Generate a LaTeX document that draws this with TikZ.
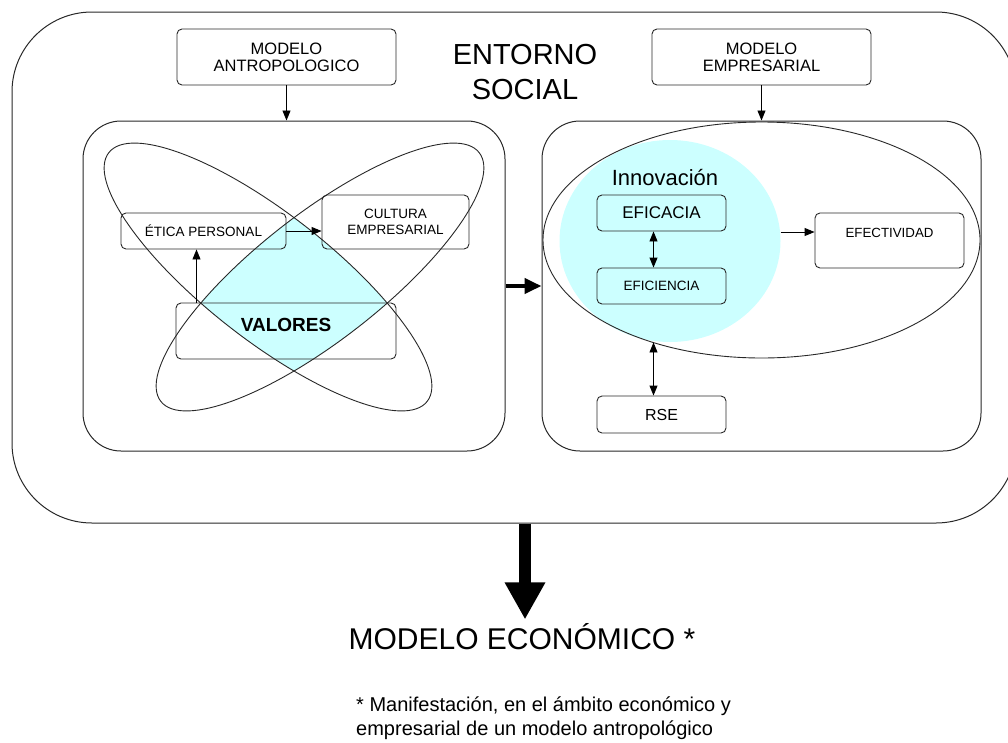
\documentclass[tikz,border=0pt]{standalone}
\usepackage{fontspec}
\setmainfont{Liberation Sans}
\usetikzlibrary{arrows.meta,shapes.geometric}
\definecolor{celeste}{RGB}{204,255,255}
\definecolor{borde}{RGB}{40,40,40}
\begin{document}
\begin{tikzpicture}[x=1pt,y=-1pt,>={Triangle[length=10pt,width=8pt]},
 caja/.style={draw=borde,line width=0.9pt,rounded corners=5pt,align=center,inner sep=0pt},
 panel/.style={draw=borde,line width=1pt,rounded corners=38pt,inner sep=0pt},
 flecha/.style={->,line width=0.9pt}]
\useasboundingbox (0,0) rectangle (1008,742);
% marco exterior y titulo
\node[panel,rounded corners=80pt,minimum width=1004pt,minimum height=511pt] (entorno) at (514,267.5) {};
\node[font=\fontsize{29}{35}\selectfont,align=center] (titulo) at (525,72) {ENTORNO\\SOCIAL};
% modelos de arriba
\node[caja,minimum width=219pt,minimum height=56pt,font=\fontsize{16.5}{17}\selectfont] (antro) at (286.5,57) {MODELO\\ANTROPOLOGICO};
\node[caja,minimum width=219pt,minimum height=56pt,font=\fontsize{16.5}{17}\selectfont] (empre) at (761.5,57) {MODELO\\EMPRESARIAL};
% los dos paneles
\node[panel,minimum width=422pt,minimum height=330pt] (izq) at (294,286) {};
\node[panel,minimum width=439pt,minimum height=330pt] (der) at (761.5,286) {};
% zona celeste comun a las dos elipses
\begin{scope}
\clip[rotate around={-38:(268,277)}] (268,277) ellipse (202 and 63);
\fill[celeste,rotate around={38:(320,277)}] (320,277) ellipse (202 and 63);
\end{scope}
\foreach \cx/\ang in {268/-38,320/38}
\draw[borde,line width=0.9pt,rotate around={\ang:(\cx,277)}] (\cx,277) ellipse (202 and 63);
% cajas del panel izquierdo
\node[caja,minimum width=165pt,minimum height=36pt,font=\fontsize{13.5}{14}\selectfont] (etica) at (203.5,231) {ÉTICA PERSONAL};
\node[caja,minimum width=147pt,minimum height=54pt,font=\fontsize{13.5}{16}\selectfont] (cultura) at (395.5,222) {CULTURA\\EMPRESARIAL};
\node[caja,minimum width=220pt,text height=28pt,text depth=28pt,font=\fontsize{19}{20}\selectfont\bfseries] (valores) at (286,331) {VALORES};
\draw[flecha] (antro.south) -- (antro.south |- izq.north);
\draw[flecha] (etica.east) -- (etica.east -| cultura.west);
\draw[flecha] ([xshift=-7pt]etica.south |- valores.north) -- ([xshift=-7pt]etica.south);
% panel derecho
\node[ellipse,fill=celeste,minimum width=221pt,minimum height=202pt,inner sep=0pt] (innov) at (670,241) {};
\node[ellipse,draw=borde,line width=0.9pt,minimum width=437pt,minimum height=236pt,inner sep=0pt] (ovalo) at (761.5,240) {};
\node[font=\fontsize{22}{24}\selectfont] (titinnov) at (665,178) {Innovación};
\node[caja,fill=celeste,minimum width=129pt,minimum height=36pt,font=\fontsize{17}{18}\selectfont] (eficacia) at (661.5,213) {EFICACIA};
\node[caja,fill=celeste,minimum width=129pt,minimum height=36pt,font=\fontsize{13.5}{15}\selectfont] (eficiencia) at (661.5,286) {EFICIENCIA};
\node[caja,minimum width=129pt,minimum height=37pt,font=\fontsize{16}{18}\selectfont] (rse) at (661.5,414.5) {RSE};
\node[caja,minimum width=149pt,text height=24pt,text depth=31pt,font=\fontsize{13.3}{15}\selectfont] (efect) at (889.5,240.5) {EFECTIVIDAD};
\draw[flecha] (empre.south) -- (empre.south |- der.north);
\draw[flecha,<->] ([xshift=-8pt]eficacia.south) -- ([xshift=-8pt]eficiencia.north);
\draw[flecha] ([yshift=9pt]innov.east) -- ([yshift=9pt]innov.east -| efect.west);
\draw[flecha,<->] ([xshift=-8pt]rse.north) -- ([xshift=-8pt]rse.north |- ovalo.223.8);
% de un panel al otro
\draw[line width=4pt,-{Triangle[length=17pt,width=15pt]}] (izq.east) -- (der.west);
% resultado
\node[anchor=base,font=\fontsize{30}{32}\selectfont] (economico) at (522,649) {MODELO ECONÓMICO *};
\draw[line width=12pt,-{Triangle[length=37pt,width=38pt]}] ([xshift=3pt]entorno.south -| economico.north) -- ([xshift=3pt]economico.north);
\node[anchor=west,align=left,inner sep=0pt,font=\fontsize{20}{24}\selectfont] (nota) at (356,718) {* Manifestación, en el ámbito económico y\\empresarial de un modelo antropológico};
\end{tikzpicture}
\end{document}
